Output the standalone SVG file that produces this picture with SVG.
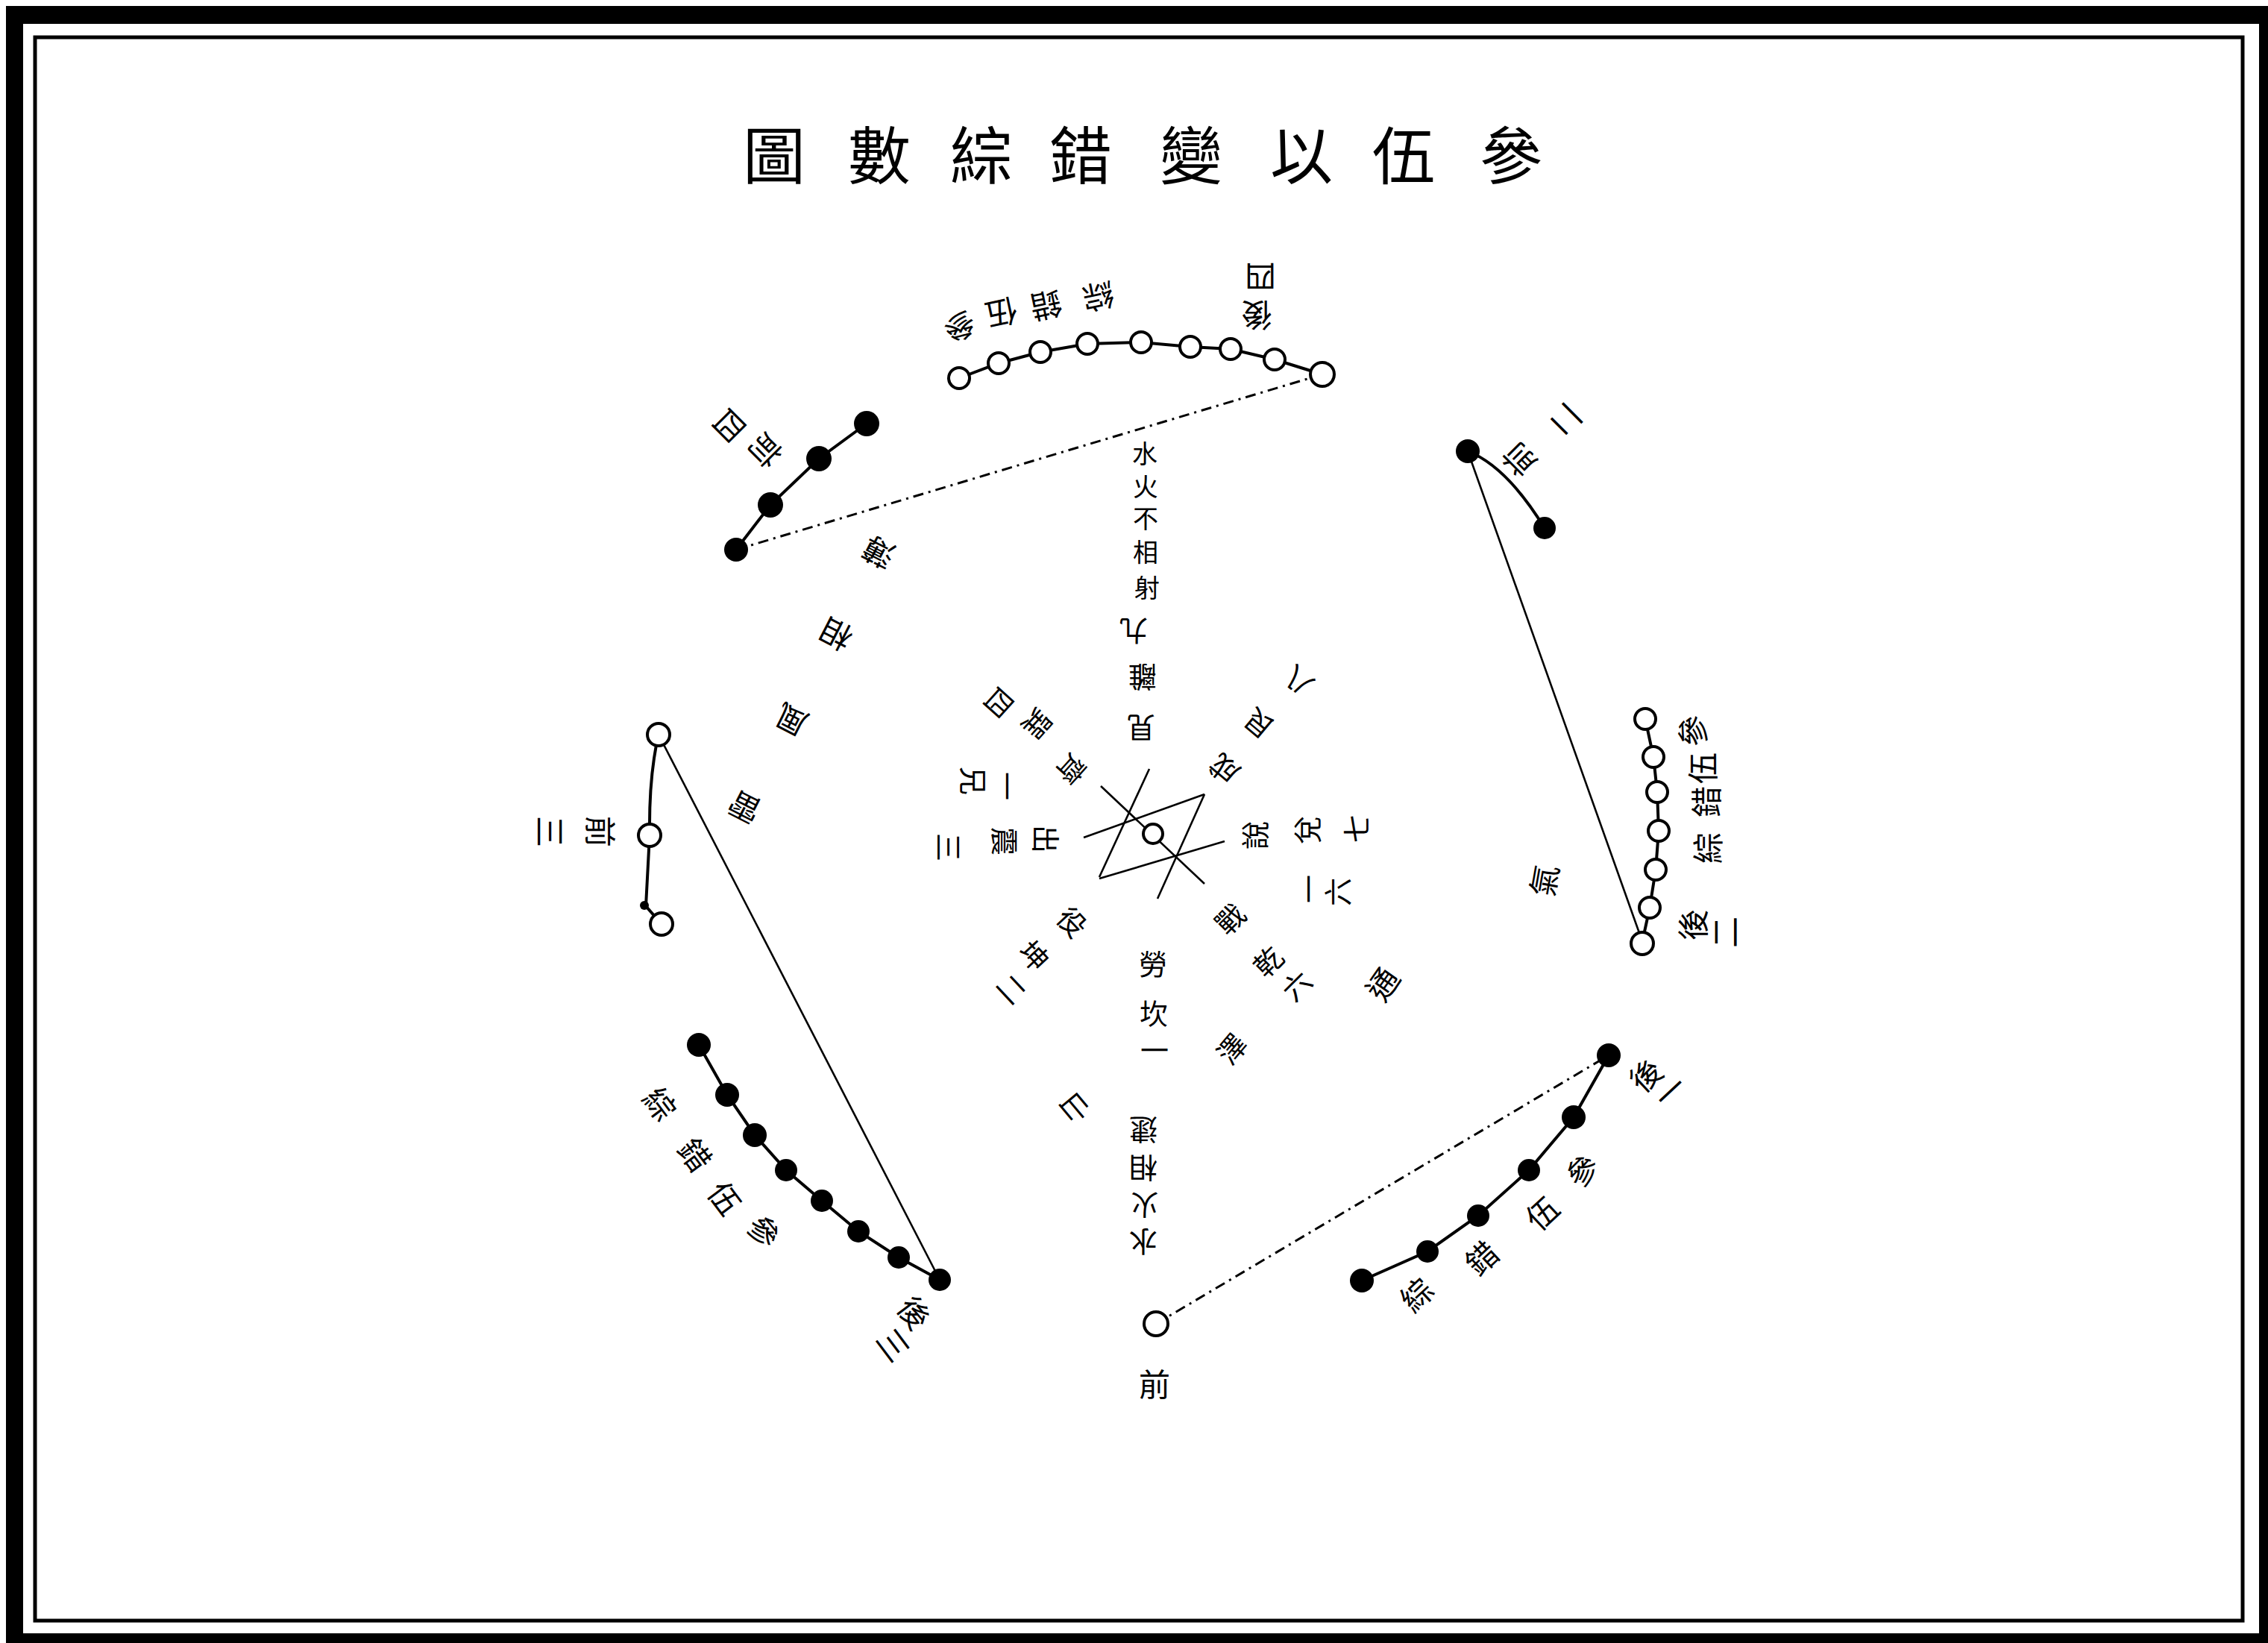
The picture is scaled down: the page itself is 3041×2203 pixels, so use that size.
<svg xmlns="http://www.w3.org/2000/svg" width="3041" height="2203" viewBox="0 0 3041 2203">
<style>
.w{fill:#fff;stroke:#000;stroke-width:4}
.b{fill:#000}
.ln{stroke:#000;stroke-width:4;fill:none;stroke-linecap:round}
.thin{stroke:#000;stroke-width:2.6;fill:none}
.dot{stroke:#000;stroke-width:3;fill:none;stroke-dasharray:14 7 3 7}
text{font-family:"Noto Sans CJK TC","Noto Sans CJK SC",sans-serif;text-anchor:middle;dominant-baseline:central;fill:#000}
.t{font-size:84px}
.l{font-size:42px}
.s{font-size:38px}
.c{font-size:34px}
</style>
<rect width="3041" height="2203" fill="#fff"/>
<g id="frame">
<path d="M8 8H3041V2203H8Z M31 32V2190H3029V32Z" fill="#000" fill-rule="evenodd"/>
<rect x="47" y="50" width="2960" height="2123" fill="none" stroke="#000" stroke-width="5"/>
</g>
<g id="title">
<text class="t" x="1038" y="203">圖</text>
<text class="t" x="1179" y="203">數</text>
<text class="t" x="1316" y="203">綜</text>
<text class="t" x="1449" y="203">錯</text>
<text class="t" x="1597" y="203">變</text>
<text class="t" x="1745" y="203">以</text>
<text class="t" x="1882" y="203">伍</text>
<text class="t" x="2026" y="203">參</text>
</g>
<g id="connectors">
<polyline class="ln" points="1286,507 1339,487 1395,472 1458,461 1530,459 1596,465 1650,468 1709,482 1773,502"/>
<line class="dot" x1="987" y1="737" x2="1773" y2="502"/>
<polyline class="ln" points="1162,568 1098,615 1033,677 987,737"/>
<path class="ln" d="M1968,605 Q2020,625 2071,708"/>
<line class="thin" x1="1968" y1="605" x2="2203" y2="1265"/>
<polyline class="ln" points="2206,964 2217,1015 2222,1062 2224,1114 2220,1166 2212,1217 2202,1263"/>
<path class="ln" d="M883,985 Q870,1040 871,1120 L866,1215 L887,1239"/>
<circle class="b" cx="864" cy="1214" r="6"/>
<line class="thin" x1="883" y1="985" x2="1259" y2="1714"/>
<polyline class="ln" points="937,1401 975,1468 1012,1522 1054,1569 1102,1610 1151,1651 1205,1686 1260,1716"/>
<polyline class="ln" points="2157,1415 2110,1498 2050,1569 1982,1630 1914,1678 1826,1717"/>
<line class="dot" x1="1550" y1="1775" x2="2157" y2="1415"/>
<line class="thin" x1="1453" y1="1123" x2="1615" y2="1065"/>
<line class="thin" x1="1474" y1="1178" x2="1642" y2="1128"/>
<line class="thin" x1="1541" y1="1031" x2="1474" y2="1176"/>
<line class="thin" x1="1615" y1="1065" x2="1552" y2="1205"/>
<line class="thin" x1="1476" y1="1054" x2="1615" y2="1185"/>
</g>
<g id="node-center">
<circle class="w" cx="1546" cy="1118" r="13"/>
</g>
<g id="node-hou4">
<circle class="w" cx="1286" cy="507" r="14"/>
<circle class="w" cx="1339" cy="487" r="14"/>
<circle class="w" cx="1395" cy="472" r="14"/>
<circle class="w" cx="1458" cy="461" r="14"/>
<circle class="w" cx="1530" cy="459" r="14"/>
<circle class="w" cx="1596" cy="465" r="14"/>
<circle class="w" cx="1650" cy="468" r="14"/>
<circle class="w" cx="1709" cy="482" r="14"/>
<circle class="w" cx="1773" cy="502" r="16"/>
<text class="l" x="1287" y="440" transform="rotate(168 1287 440)">參</text>
<text class="l" x="1343" y="422" transform="rotate(168 1343 422)">伍</text>
<text class="l" x="1403" y="412" transform="rotate(168 1403 412)">錯</text>
<text class="l" x="1473" y="400" transform="rotate(168 1473 400)">綜</text>
<text class="l" x="1690" y="373" transform="rotate(180 1690 373)">四</text>
<text class="l" x="1685" y="425" transform="rotate(180 1685 425)">後</text>
</g>
<g id="node-qian4">
<circle class="b" cx="1162" cy="568" r="17"/>
<circle class="b" cx="1098" cy="615" r="17"/>
<circle class="b" cx="1033" cy="677" r="17"/>
<circle class="b" cx="987" cy="737" r="16"/>
<text class="l" x="980" y="573" transform="rotate(135 980 573)">四</text>
<text class="l" x="1028" y="606" transform="rotate(135 1028 606)">前</text>
</g>
<g id="node-qian2">
<circle class="b" cx="1968" cy="605" r="16"/>
<circle class="b" cx="2071" cy="708" r="15"/>
<text class="l" x="2035" y="618" transform="rotate(-135 2035 618)">前</text>
<text class="l" x="2097" y="565" transform="rotate(-135 2097 565)">二</text>
</g>
<g id="node-hou2">
<circle class="w" cx="2206" cy="964" r="14"/>
<circle class="w" cx="2217" cy="1015" r="14"/>
<circle class="w" cx="2222" cy="1062" r="14"/>
<circle class="w" cx="2224" cy="1114" r="14"/>
<circle class="w" cx="2220" cy="1166" r="14"/>
<circle class="w" cx="2212" cy="1217" r="14"/>
<circle class="w" cx="2202" cy="1265" r="15"/>
<text class="l" x="2267" y="980" transform="rotate(-90 2267 980)">參</text>
<text class="l" x="2280" y="1030" transform="rotate(-90 2280 1030)">伍</text>
<text class="l" x="2285" y="1075" transform="rotate(-90 2285 1075)">錯</text>
<text class="l" x="2287" y="1137" transform="rotate(-90 2287 1137)">綜</text>
<text class="l" x="2267" y="1240" transform="rotate(-90 2267 1240)">後</text>
<text class="l" x="2310" y="1250" transform="rotate(-90 2310 1250)">二</text>
</g>
<g id="node-qian3">
<circle class="w" cx="883" cy="985" r="15"/>
<circle class="w" cx="871" cy="1120" r="15"/>
<circle class="w" cx="887" cy="1239" r="15"/>
<text class="l" x="807" y="1115" transform="rotate(90 807 1115)">前</text>
<text class="l" x="740" y="1115" transform="rotate(90 740 1115)">三</text>
</g>
<g id="node-hou3">
<circle class="b" cx="937" cy="1401" r="16"/>
<circle class="b" cx="975" cy="1468" r="16"/>
<circle class="b" cx="1012" cy="1522" r="16"/>
<circle class="b" cx="1054" cy="1569" r="15"/>
<circle class="b" cx="1102" cy="1610" r="15"/>
<circle class="b" cx="1151" cy="1651" r="15"/>
<circle class="b" cx="1205" cy="1686" r="15"/>
<circle class="b" cx="1260" cy="1716" r="15"/>
<text class="l" x="887" y="1479" transform="rotate(53 887 1479)">綜</text>
<text class="l" x="934" y="1547" transform="rotate(53 934 1547)">錯</text>
<text class="l" x="974" y="1605" transform="rotate(53 974 1605)">伍</text>
<text class="l" x="1026" y="1650" transform="rotate(53 1026 1650)">參</text>
<text class="l" x="1228" y="1759" transform="rotate(53 1228 1759)">後</text>
<text class="l" x="1200" y="1802" transform="rotate(53 1200 1802)">三</text>
</g>
<g id="node-qian1">
<circle class="w" cx="1550" cy="1775" r="16"/>
<text class="l" x="1548" y="1853">前</text>
</g>
<g id="node-hou1">
<circle class="b" cx="2157" cy="1415" r="16"/>
<circle class="b" cx="2110" cy="1498" r="16"/>
<circle class="b" cx="2050" cy="1569" r="15"/>
<circle class="b" cx="1982" cy="1630" r="15"/>
<circle class="b" cx="1914" cy="1678" r="15"/>
<circle class="b" cx="1826" cy="1717" r="16"/>
<text class="l" x="2205" y="1440" transform="rotate(-43 2205 1440)">後</text>
<text class="l" x="2238" y="1462" transform="rotate(-43 2238 1462)">一</text>
<text class="l" x="2120" y="1568" transform="rotate(-43 2120 1568)">參</text>
<text class="l" x="2066" y="1625" transform="rotate(-43 2066 1625)">伍</text>
<text class="l" x="1985" y="1685" transform="rotate(-43 1985 1685)">錯</text>
<text class="l" x="1898" y="1734" transform="rotate(-43 1898 1734)">綜</text>
</g>
<g id="label-top">
<text class="c" x="1535" y="606">水</text>
<text class="c" x="1536" y="650">火</text>
<text class="c" x="1536" y="693">不</text>
<text class="c" x="1536" y="738">相</text>
<text class="c" x="1538" y="786">射</text>
<text class="s" x="1520" y="848" transform="rotate(180 1520 848)">九</text>
<text class="s" x="1532" y="910" transform="rotate(180 1532 910)">離</text>
<text class="s" x="1530" y="978" transform="rotate(180 1530 978)">見</text>
</g>
<g id="label-bottom">
<text class="s" x="1546" y="1290">勞</text>
<text class="s" x="1547" y="1356">坎</text>
<text class="s" x="1548" y="1405">一</text>
<text class="s" x="1533" y="1517" transform="rotate(180 1533 1517)">逮</text>
<text class="s" x="1533" y="1568" transform="rotate(180 1533 1568)">相</text>
<text class="s" x="1535" y="1618" transform="rotate(180 1535 1618)">火</text>
<text class="s" x="1533" y="1667" transform="rotate(180 1533 1667)">水</text>
</g>
<g id="label-center">
<text class="s" x="1438" y="1033" transform="rotate(132 1438 1033)">齊</text>
<text class="s" x="1392" y="972" transform="rotate(132 1392 972)">巽</text>
<text class="s" x="1341" y="944" transform="rotate(132 1341 944)">四</text>
<text class="s" x="1640" y="1033" transform="rotate(-140 1640 1033)">成</text>
<text class="s" x="1686" y="972" transform="rotate(-140 1686 972)">艮</text>
<text class="s" x="1739" y="915" transform="rotate(-140 1739 915)">八</text>
<text class="s" x="1404" y="1125" transform="rotate(90 1404 1125)">出</text>
<text class="s" x="1349" y="1128" transform="rotate(90 1349 1128)">震</text>
<text class="s" x="1274" y="1136" transform="rotate(90 1274 1136)">三</text>
<text class="s" x="1352" y="1054" transform="rotate(90 1352 1054)">一</text>
<text class="s" x="1307" y="1047" transform="rotate(90 1307 1047)">兄</text>
<text class="s" x="1680" y="1120" transform="rotate(-90 1680 1120)">說</text>
<text class="s" x="1750" y="1113" transform="rotate(-90 1750 1113)">兌</text>
<text class="s" x="1816" y="1111" transform="rotate(-90 1816 1111)">七</text>
<text class="s" x="1752" y="1192" transform="rotate(-90 1752 1192)">一</text>
<text class="s" x="1791" y="1196" transform="rotate(-90 1791 1196)">六</text>
<text class="s" x="1648" y="1231" transform="rotate(-45 1648 1231)">戰</text>
<text class="s" x="1699" y="1288" transform="rotate(-45 1699 1288)">乾</text>
<text class="s" x="1737" y="1320" transform="rotate(-45 1737 1320)">六</text>
<text class="s" x="1439" y="1235" transform="rotate(47 1439 1235)">役</text>
<text class="s" x="1388" y="1280" transform="rotate(47 1388 1280)">坤</text>
<text class="s" x="1358" y="1325" transform="rotate(47 1358 1325)">二</text>
</g>
<g id="label-left">
<text class="l" x="1177" y="743" transform="rotate(-153 1177 743)">薄</text>
<text class="l" x="1120" y="853" transform="rotate(-153 1120 853)">相</text>
<text class="l" x="1060" y="968" transform="rotate(-153 1060 968)">風</text>
<text class="l" x="997" y="1085" transform="rotate(-153 997 1085)">雷</text>
</g>
<g id="label-right">
<text class="s" x="1443" y="1487" transform="rotate(140 1443 1487)">山</text>
<text class="s" x="1650" y="1405" transform="rotate(-50 1650 1405)">澤</text>
<text class="l" x="1852" y="1318" transform="rotate(-55 1852 1318)">通</text>
<text class="l" x="2068" y="1180" transform="rotate(-80 2068 1180)">氣</text>
</g>
</svg>
